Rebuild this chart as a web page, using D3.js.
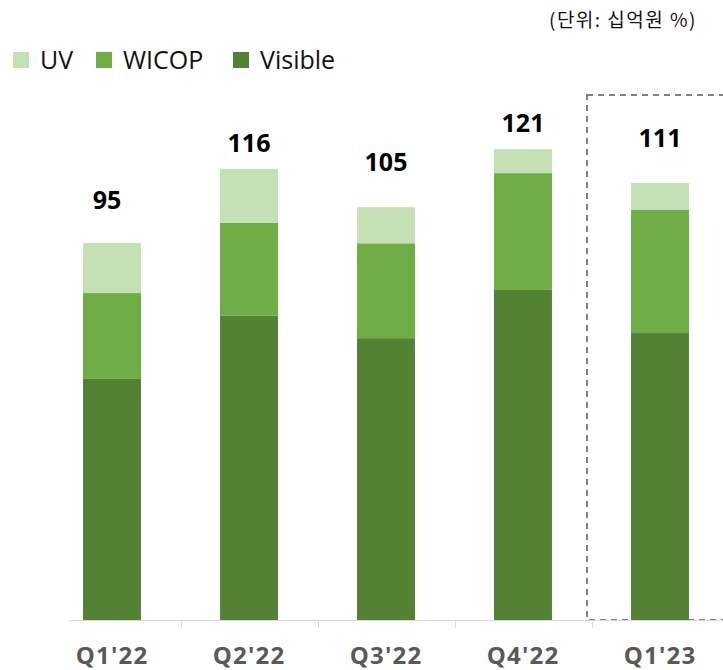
<!DOCTYPE html>
<html>
<head>
<meta charset="utf-8">
<script src="https://cdn.jsdelivr.net/npm/d3@7"></script>
<style>
  body { margin: 0; background: #fff; }
  svg { display: block; }
</style>
</head>
<body>
<svg width="723" height="670"></svg>
<script>
// --- DATA ---
const quarters = ["Q1'22", "Q2'22", "Q3'22", "Q4'22", "Q1'23"];
const visible = [61.5, 77.6, 71.9, 84.2, 73.2];
const wicop = [21.9, 23.7, 24.2, 29.8, 31.4];
const uv = [12.8, 13.8, 9.2, 6.1, 6.9];
const totals = [95, 116, 105, 121, 111];
const seriesNames = ["UV", "WICOP", "Visible"];
const unitLabel = "(단위: 십억원 %)";

const colors = { Visible: "#548235", WICOP: "#70ad47", UV: "#c5e0b4" };

const svg = d3.select("svg");
const baseline = 620;

const x = d3.scaleBand()
    .domain(quarters)
    .range([43.5, 728.5])
    .paddingInner(0.577)
    .paddingOuter(0.2885);

const y = d3.scaleLinear()
    .domain([0, 140])
    .range([baseline, baseline - 140 * 3.92]);

// --- STACK ---
const rows = quarters.map((q, i) => ({ q, Visible: visible[i], WICOP: wicop[i], UV: uv[i] }));
const stack = d3.stack().keys(["Visible", "WICOP", "UV"]);
const layers = stack(rows);

// highlight box around the latest quarter (runs off the right edge)
svg.append("rect")
    .attr("x", 587)
    .attr("y", 95)
    .attr("width", 220)
    .attr("height", baseline - 95)
    .attr("fill", "none")
    .attr("stroke", "#808080")
    .attr("stroke-width", 2)
    .attr("stroke-dasharray", "6,5");

// --- BARS ---
svg.append("g")
  .selectAll("g")
  .data(layers)
  .join("g")
    .attr("fill", d => colors[d.key])
  .selectAll("rect")
  .data(d => d)
  .join("rect")
    .attr("x", d => x(d.data.q))
    .attr("y", d => y(d[1]))
    .attr("width", x.bandwidth())
    .attr("height", d => y(d[0]) - y(d[1]));

// --- AXIS ---
const axis = svg.append("g");
axis.append("line")
    .attr("x1", 69).attr("x2", 723)
    .attr("y1", baseline + 0.5).attr("y2", baseline + 0.5)
    .attr("stroke", "#d9d9d9");
axis.selectAll(".tick")
  .data(quarters.slice(1))
  .join("line")
    .attr("x1", d => Math.round(x(d) - x.step() * x.paddingInner() / 2) + 0.5)
    .attr("x2", d => Math.round(x(d) - x.step() * x.paddingInner() / 2) + 0.5)
    .attr("y1", baseline)
    .attr("y2", baseline + 8)
    .attr("stroke", "#d9d9d9");
axis.selectAll("text")
  .data(quarters)
  .join("text")
    .attr("x", d => x(d) + x.bandwidth() / 2)
    .attr("y", 664)
    .attr("text-anchor", "middle")
    .attr("font-family", "'Open Sans', sans-serif")
    .attr("font-weight", 700)
    .attr("font-size", 24)
    .attr("letter-spacing", 1.2)
    .attr("fill", "#595959")
    .text(d => d);

// --- TOTAL LABELS ---
const labelGap = [34, 17, 36, 17, 36];
svg.append("g")
  .selectAll("text")
  .data(quarters)
  .join("text")
    .attr("x", (d, i) => x(d) + x.bandwidth() / 2 - (i === 0 ? 5 : 0))
    .attr("y", (d, i) => y(d3.sum([visible[i], wicop[i], uv[i]])) - labelGap[i])
    .attr("text-anchor", "middle")
    .attr("font-family", "'Open Sans', sans-serif")
    .attr("font-weight", 700)
    .attr("font-size", 25)
    .attr("fill", "#000")
    .text((d, i) => totals[i]);

// --- LEGEND ---
const legendX = [13, 96, 233];
const legend = svg.append("g")
  .selectAll("g")
  .data(seriesNames)
  .join("g")
    .attr("transform", (d, i) => `translate(${legendX[i]},52)`);
legend.append("rect")
    .attr("width", 16)
    .attr("height", 16)
    .attr("fill", d => colors[d]);
legend.append("text")
    .attr("x", 27)
    .attr("y", 17)
    .attr("font-family", "'Open Sans', sans-serif")
    .attr("font-size", 25)
    .attr("fill", "#111")
    .text(d => d);

// --- UNIT ---
svg.append("text")
    .attr("x", 697)
    .attr("y", 27)
    .attr("text-anchor", "end")
    .attr("font-family", "'Noto Sans CJK KR', sans-serif")
    .attr("font-size", 19)
    .attr("letter-spacing", 1.5)
    .attr("fill", "#111")
    .text(unitLabel);
</script>
</body>
</html>
